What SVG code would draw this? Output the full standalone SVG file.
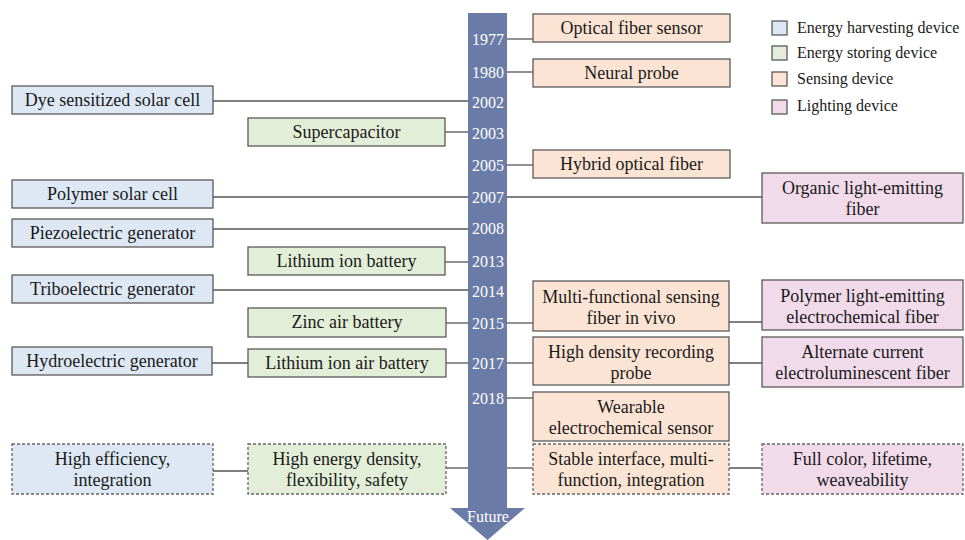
<svg xmlns="http://www.w3.org/2000/svg" width="965" height="540" viewBox="0 0 965 540" font-family="'Liberation Serif', 'DejaVu Serif', 'Times New Roman', serif">
<style>
.b{stroke:#5a5a5a;stroke-width:1.3}
.d{stroke:#666;stroke-width:1.3;stroke-dasharray:3 2}
.h{fill:#dde8f4}.s{fill:#e3eed8}.n{fill:#fce4d4}.l{fill:#f1dbea}
.t{font-family:'Liberation Serif','DejaVu Serif','Times New Roman',serif;font-size:18px;fill:#1a1a1a;text-anchor:middle}
.y{font-family:'Liberation Serif','DejaVu Serif','Times New Roman',serif;font-size:16px;fill:#ffffff;text-anchor:middle}
.g{font-family:'Liberation Serif','DejaVu Serif','Times New Roman',serif;font-size:16px;fill:#1a1a1a}
.c{stroke:#555;stroke-width:1.3;fill:none}
</style>
<rect width="965" height="540" fill="#ffffff"/>
<g id="timeline">
<path d="M468 13 H507 V508 H525 L487.5 540 L450 508 H468 Z" fill="#6b7ba8"/>
<text class="y" x="488" y="45">1977</text>
<text class="y" x="488" y="78">1980</text>
<text class="y" x="488" y="108">2002</text>
<text class="y" x="488" y="139">2003</text>
<text class="y" x="488" y="171">2005</text>
<text class="y" x="488" y="203">2007</text>
<text class="y" x="488" y="234">2008</text>
<text class="y" x="488" y="267">2013</text>
<text class="y" x="488" y="297">2014</text>
<text class="y" x="488" y="329">2015</text>
<text class="y" x="488" y="369">2017</text>
<text class="y" x="488" y="404">2018</text>
<text class="y" x="488" y="522">Future</text>
</g>
<g id="connectors" class="c">
<path d="M507 39 H533"/>
<path d="M507 72 H533"/>
<path d="M213 101 H468"/>
<path d="M445 132 H468"/>
<path d="M507 165 H533"/>
<path d="M213 197 H468"/>
<path d="M507 197 H762"/>
<path d="M213 229 H468"/>
<path d="M445 262 H468"/>
<path d="M213 290 H468"/>
<path d="M446 323 H468"/>
<path d="M507 323 H533"/>
<path d="M729 322 H762"/>
<path d="M212 363 H248"/>
<path d="M446 363 H468"/>
<path d="M507 363 H533"/>
<path d="M729 363 H762"/>
<path d="M507 398 H533"/>
<path d="M213 471 H248"/>
<path d="M446 468 H468"/>
<path d="M507 468 H533"/>
<path d="M729 468 H762"/>
</g>
<g id="legend">
<rect class="b h" x="772" y="21" width="15" height="14"/>
<text class="g" x="797" y="33">Energy harvesting device</text>
<rect class="b s" x="772" y="46" width="15" height="14"/>
<text class="g" x="797" y="58">Energy storing device</text>
<rect class="b n" x="772" y="72" width="15" height="14"/>
<text class="g" x="797" y="84">Sensing device</text>
<rect class="b l" x="772" y="100" width="15" height="14"/>
<text class="g" x="797" y="111">Lighting device</text>
</g>
<g id="optical-fiber-sensor"><rect class="b n" x="533" y="14" width="197" height="28"/><text class="t" x="631.5" y="34">Optical fiber sensor</text></g>
<g id="neural-probe"><rect class="b n" x="533" y="59" width="197" height="28"/><text class="t" x="631.5" y="79">Neural probe</text></g>
<g id="dye-sensitized"><rect class="b h" x="12" y="86" width="201" height="28"/><text class="t" x="112.5" y="106">Dye sensitized solar cell</text></g>
<g id="supercapacitor"><rect class="b s" x="248" y="118" width="197" height="28"/><text class="t" x="346.5" y="138">Supercapacitor</text></g>
<g id="hybrid-optical-fiber"><rect class="b n" x="533" y="150" width="197" height="28"/><text class="t" x="631.5" y="170">Hybrid optical fiber</text></g>
<g id="polymer-solar-cell"><rect class="b h" x="12" y="180" width="201" height="28"/><text class="t" x="112.5" y="200">Polymer solar cell</text></g>
<g id="organic-light-emitting-fiber"><rect class="b l" x="762" y="173" width="201" height="50"/><text class="t" x="862.5" y="194">Organic light-emitting</text><text class="t" x="862.5" y="215">fiber</text></g>
<g id="piezoelectric-generator"><rect class="b h" x="12" y="219" width="201" height="28"/><text class="t" x="112.5" y="239">Piezoelectric generator</text></g>
<g id="lithium-ion-battery"><rect class="b s" x="248" y="247" width="197" height="28"/><text class="t" x="346.5" y="267">Lithium ion battery</text></g>
<g id="triboelectric-generator"><rect class="b h" x="12" y="275" width="201" height="28"/><text class="t" x="112.5" y="295">Triboelectric generator</text></g>
<g id="zinc-air-battery"><rect class="b s" x="248" y="308" width="198" height="29"/><text class="t" x="347" y="328">Zinc air battery</text></g>
<g id="multi-functional-sensing"><rect class="b n" x="533" y="281" width="196" height="50"/><text class="t" x="631" y="303">Multi-functional sensing</text><text class="t" x="631" y="324">fiber in vivo</text></g>
<g id="polymer-light-emitting"><rect class="b l" x="762" y="280" width="201" height="50"/><text class="t" x="862.5" y="302">Polymer light-emitting</text><text class="t" x="862.5" y="323">electrochemical fiber</text></g>
<g id="hydroelectric-generator"><rect class="b h" x="12" y="347" width="200" height="28"/><text class="t" x="112" y="367">Hydroelectric generator</text></g>
<g id="lithium-ion-air-battery"><rect class="b s" x="248" y="349" width="198" height="28"/><text class="t" x="347" y="369">Lithium ion air battery</text></g>
<g id="high-density-recording-probe"><rect class="b n" x="533" y="337" width="196" height="48"/><text class="t" x="631" y="358">High density recording</text><text class="t" x="631" y="379">probe</text></g>
<g id="alternate-current"><rect class="b l" x="762" y="337" width="201" height="50"/><text class="t" x="862.5" y="358">Alternate current</text><text class="t" x="862.5" y="379">electroluminescent fiber</text></g>
<g id="wearable-sensor"><rect class="b n" x="533" y="392" width="196" height="49"/><text class="t" x="631" y="413">Wearable</text><text class="t" x="631" y="434">electrochemical sensor</text></g>
<g id="high-efficiency"><rect class="d h" x="12" y="444" width="201" height="50"/><text class="t" x="112.5" y="465">High efficiency,</text><text class="t" x="112.5" y="486">integration</text></g>
<g id="high-energy-density"><rect class="d s" x="248" y="444" width="198" height="50"/><text class="t" x="347" y="465">High energy density,</text><text class="t" x="347" y="486">flexibility, safety</text></g>
<g id="stable-interface"><rect class="d n" x="533" y="444" width="196" height="50"/><text class="t" x="631" y="465">Stable interface, multi-</text><text class="t" x="631" y="486">function, integration</text></g>
<g id="full-color"><rect class="d l" x="762" y="444" width="201" height="50"/><text class="t" x="862.5" y="465">Full color, lifetime,</text><text class="t" x="862.5" y="486">weaveability</text></g>
</svg>
